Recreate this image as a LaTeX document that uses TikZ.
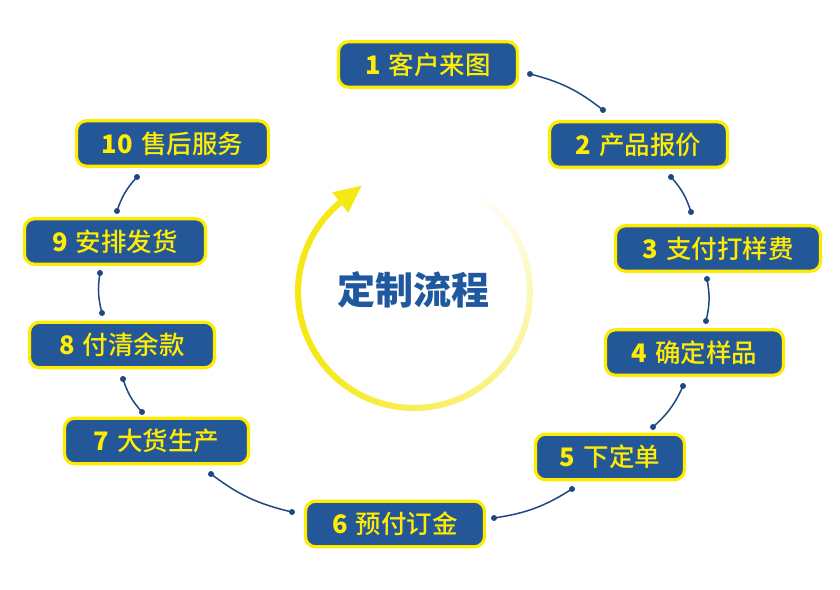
\documentclass[tikz,border=0pt]{standalone}
\usepackage{fontspec}
\setmainfont{Noto Sans CJK SC}[BoldFont={Noto Sans CJK SC Bold}]
\newfontfamily\boxfont{Noto Sans CJK SC Medium}[BoldFont={Noto Sans CJK SC Bold}]
\newfontfamily\titlefont{Noto Sans CJK SC Black}
\definecolor{boxblue}{RGB}{35,87,152}
\definecolor{boxyellow}{RGB}{255,235,0}
\definecolor{txtyellow}{RGB}{255,236,0}
\definecolor{titleblue}{RGB}{31,88,158}
\definecolor{connblue}{RGB}{30,72,130}
\definecolor{arcyellow}{RGB}{245,232,20}
\newcommand{\num}[1]{{\titlefont #1}\hspace{0.32em}}
\tikzset{
  stepbox/.style={draw=boxyellow, line width=3.2pt, fill=boxblue, rounded corners=10pt,
    text=txtyellow, font=\boxfont\fontsize{25.5}{28}\selectfont, inner sep=0pt,
    minimum height=45.5pt, anchor=center},
  conn/.style={draw=connblue, line width=1.5pt},
  dot/.style={fill=connblue}
}
\begin{document}
\begin{tikzpicture}[x=1pt,y=1pt]
\useasboundingbox (0,0) rectangle (840,589);
\fill[white] (0,0) rectangle (840,589);

% circular arrow with fading
\def\cx{414}\def\cy{297}\def\r{116}
\foreach \a in {128,130,...,420}{
  \pgfmathsetmacro{\p}{\a<210 ? 100 : max(0,100-(\a-210)/210*100)}
  \draw[line width=6pt, color=arcyellow!\p!white] ({\cx+\r*cos(\a)},{\cy+\r*sin(\a)}) arc[start angle=\a, end angle=\a+2.6, radius=\r];
}
\fill[arcyellow] (361.5,403.2) -- (332.2,396.7) -- (348.3,376.3) -- cycle;

\node[font=\titlefont\fontsize{38}{42}\selectfont, text=titleblue] (title) at (413,299) {定制流程};

% step boxes
\node[stepbox, minimum width=179pt] (n1) at (428,524.5) {\num{1}客户来图};
\node[stepbox, minimum width=178pt] (n2) at (638.5,444.5) {\num{2}产品报价};
\node[stepbox, minimum width=205pt] (n3) at (718,340.5) {\num{3}支付打样费};
\node[stepbox, minimum width=178pt] (n4) at (694.5,236.5) {\num{4}确定样品};
\node[stepbox, minimum width=149pt] (n5) at (610,132) {\num{5}下定单};
\node[stepbox, minimum width=179pt] (n6) at (395,65) {\num{6}预付订金};
\node[stepbox, minimum width=184pt] (n7) at (156.5,148) {\num{7}大货生产};
\node[stepbox, minimum width=185pt] (n8) at (122,244) {\num{8}付清余款};
\node[stepbox, minimum width=181pt] (n9) at (115,347.5) {\num{9}安排发货};
\node[stepbox, minimum width=192pt] (n10) at (172.5,445.5) {\num{10}售后服务};

% connector end points
\coordinate (a1) at (530,515);  \coordinate (b2) at (603,479);
\coordinate (a2) at (671,412);  \coordinate (b3) at (691,377);
\coordinate (a3) at (707,310);  \coordinate (b4) at (706,268);
\coordinate (a4) at (683,203);  \coordinate (b5) at (653,162);
\coordinate (a5) at (572,100);  \coordinate (b6) at (494,71);
\coordinate (a6) at (292,77);   \coordinate (b7) at (211,115);
\coordinate (a7) at (142,177);  \coordinate (b8) at (123,210);
\coordinate (a8) at (102,276);  \coordinate (b9) at (100,316);
\coordinate (a9) at (117,378);  \coordinate (b10) at (137,412);

\foreach \s/\t in {a1/b2,a2/b3,a3/b4,a4/b5,a5/b6,a6/b7,a7/b8,a8/b9,a9/b10}{
  \draw[conn] (\s) to[bend left=12] (\t);
  \fill[dot] (\s) circle (3pt);
  \fill[dot] (\t) circle (3pt);
}
\end{tikzpicture}
\end{document}
